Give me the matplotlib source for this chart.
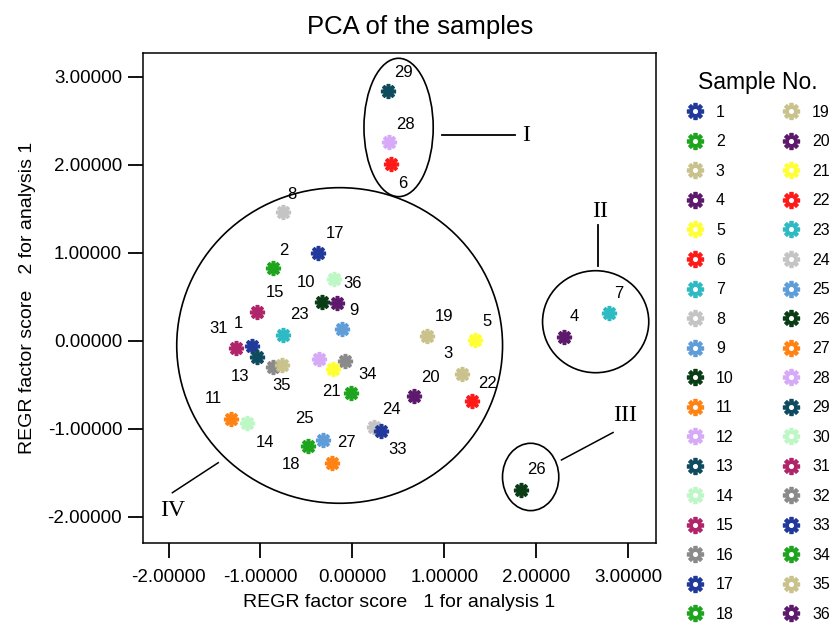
import numpy as np
import matplotlib.pyplot as plt
from matplotlib.path import Path
from matplotlib.patches import Ellipse
from matplotlib.lines import Line2D

# sample numbers and their factor scores
samples = list(range(1, 37))
score1 = [-1.096, -0.867, 1.187, 2.299, 1.332, 0.415, 2.788, -0.752, -0.117, -0.335,
          -1.324, -0.361, -1.041, -1.150, -1.035, -0.082, -0.378, -0.480, 0.813, 0.672,
          -0.209, 1.302, -0.759, 0.237, -0.324, 1.832, -0.226, 0.400, 0.389, -0.201,
          -1.266, -0.861, 0.310, -0.016, -0.770, -0.172]
score2 = [-0.057, 0.826, -0.375, 0.049, 0.011, 2.008, 0.322, 1.462, 0.133, 0.440,
          -0.890, -0.208, -0.185, -0.936, 0.333, -0.224, 1.003, -1.193, 0.057, -0.625,
          -0.322, -0.682, 0.068, -0.980, -1.125, -1.693, -1.383, 2.258, 2.844, 0.701,
          -0.076, -0.292, -1.019, -0.588, -0.273, 0.428]

# colour cycle used for the samples (repeats every 16)
palette = ['#20399A', '#1DA51D', '#C9C28C', '#5D1A6D', '#FFFF33', '#FF1A1A',
           '#2DBAC2', '#C4C4C4', '#5F9DD9', '#0A3D16', '#FF8212', '#D6AAF7',
           '#0E4B5E', '#BEF7C6', '#B0246A', '#8A8A8A']

xticks = [-2, -1, 0, 1, 2, 3]
yticks = [-2, -1, 0, 1, 2, 3]

# group outlines: label, centre x, centre y, width, height
groups = [('I', 0.502, 2.426, 0.753, 1.572),
          ('II', 2.645, 0.219, 1.155, 1.159),
          ('III', 1.938, -1.545, 0.612, 0.765),
          ('IV', -0.139, -0.051, 3.543, 3.586)]

# label offsets in pixels (right, down); samples without a label are left out
lab_off = {29: (15, -18), 28: (16, -18), 6: (12, 19), 8: (9, -18), 17: (17, -19),
           2: (11, -18), 10: (-16, -20), 36: (16, -20), 9: (12, -19), 15: (18, -19),
           23: (17, -20), 31: (-17, -19), 1: (-13, -22), 13: (-17, 19), 35: (0, 20),
           21: (-2, 22), 34: (17, -18), 19: (17, -19), 5: (12, -19), 3: (-14, -20),
           20: (16, -18), 22: (15, -18), 11: (-17, -21), 14: (18, 19), 25: (-18, -21),
           18: (-17, 19), 27: (15, -20), 24: (17, -18), 33: (17, 19), 4: (10, -20),
           7: (10, -19), 26: (16, -20)}


def gear(hole=0.0):
    verts = []
    for k in range(8):
        a = np.deg2rad(k * 45)
        for d, r in [(-11, 1.0), (11, 1.0), (17, 0.66), (28, 0.66)]:
            t = a + np.deg2rad(d)
            verts.append((r * np.cos(t), r * np.sin(t)))
    verts.append(verts[0])
    codes = [Path.MOVETO] + [Path.LINETO] * (len(verts) - 2) + [Path.CLOSEPOLY]
    if hole > 0:
        th = np.linspace(0, -2 * np.pi, 25)
        hv = [(hole * np.cos(t), hole * np.sin(t)) for t in th]
        verts += hv
        codes += [Path.MOVETO] + [Path.LINETO] * 23 + [Path.CLOSEPOLY]
    return Path(verts, codes)


plt.rcParams['font.family'] = ['Liberation Sans', 'DejaVu Sans']

fig = plt.figure(figsize=(8.34, 6.32), dpi=100)
ax = fig.add_axes([0.1715, 0.1413, 0.6145, 0.7744])

solid = gear()
for n, x, y in zip(samples, score1, score2):
    c = palette[(n - 1) % 16]
    ax.plot(x, y, marker=solid, ms=10, color=c, ls='none', zorder=3)
    if n in lab_off:
        dx, dy = lab_off[n]
        ax.annotate(str(n), (x, y), xytext=(dx * 0.72, -dy * 0.72),
                    textcoords='offset points', ha='center', va='center', fontsize=12)

for name, cx, cy, w, h in groups:
    ax.add_patch(Ellipse((cx, cy), w, h, fill=False, ec='black', lw=1.2))

# leader lines to the group names
ax.plot([0.97, 1.77], [2.339, 2.339], color='black', lw=1.3)
ax.text(1.89, 2.339, 'I', family='Liberation Serif', fontsize=17, ha='center', va='center')
ax.plot([2.672, 2.672], [0.852, 1.318], color='black', lw=1.3)
ax.text(2.690, 1.470, 'II', family='Liberation Serif', fontsize=17, ha='center', va='center')
ax.plot([2.273, 2.834], [-1.352, -1.040], color='black', lw=1.1)
ax.text(2.962, -0.852, 'III', family='Liberation Serif', fontsize=17, ha='center', va='center')
ax.plot([-1.459, -1.958], [-1.383, -1.724], color='black', lw=1.1)
ax.text(-1.960, -1.929, 'IV', family='Liberation Serif', fontsize=17, ha='center', va='center')

ax.set_xlim(-2.277, 3.296)
ax.set_ylim(-2.292, 3.269)
ax.set_xticks(xticks)
ax.set_yticks(yticks)
ax.set_xticklabels(['%.5f' % v for v in xticks])
ax.set_yticklabels(['%.5f' % v for v in yticks])
ax.tick_params(direction='out', length=11, width=1.3, labelsize=13.5, pad=4)
ax.tick_params(axis='x', pad=8)
for s in ax.spines.values():
    s.set_linewidth(1.1)

ax.set_xlabel('REGR factor score   1 for analysis 1', fontsize=14, labelpad=6)
ax.set_ylabel('REGR factor score   2 for analysis 1', fontsize=14, labelpad=8)
fig.text(0.504, 0.958, 'PCA of the samples', ha='center', va='center', fontsize=18.5)

ring = gear(hole=0.4)
handles = [Line2D([], [], marker=ring, ms=11.5, color=palette[(n - 1) % 16], ls='none')
           for n in samples]
leg = fig.legend(handles, [str(n) for n in samples], ncol=2, frameon=False,
                 loc='upper left', bbox_to_anchor=(0.822, 0.888), fontsize=11.5,
                 title='Sample No.', title_fontsize=16.5, labelspacing=0.91,
                 handlelength=1.2, handletextpad=0.7, columnspacing=3.0,
                 borderpad=0, borderaxespad=0)
leg._legend_box.sep = 8

plt.savefig('out.png', dpi=100)
